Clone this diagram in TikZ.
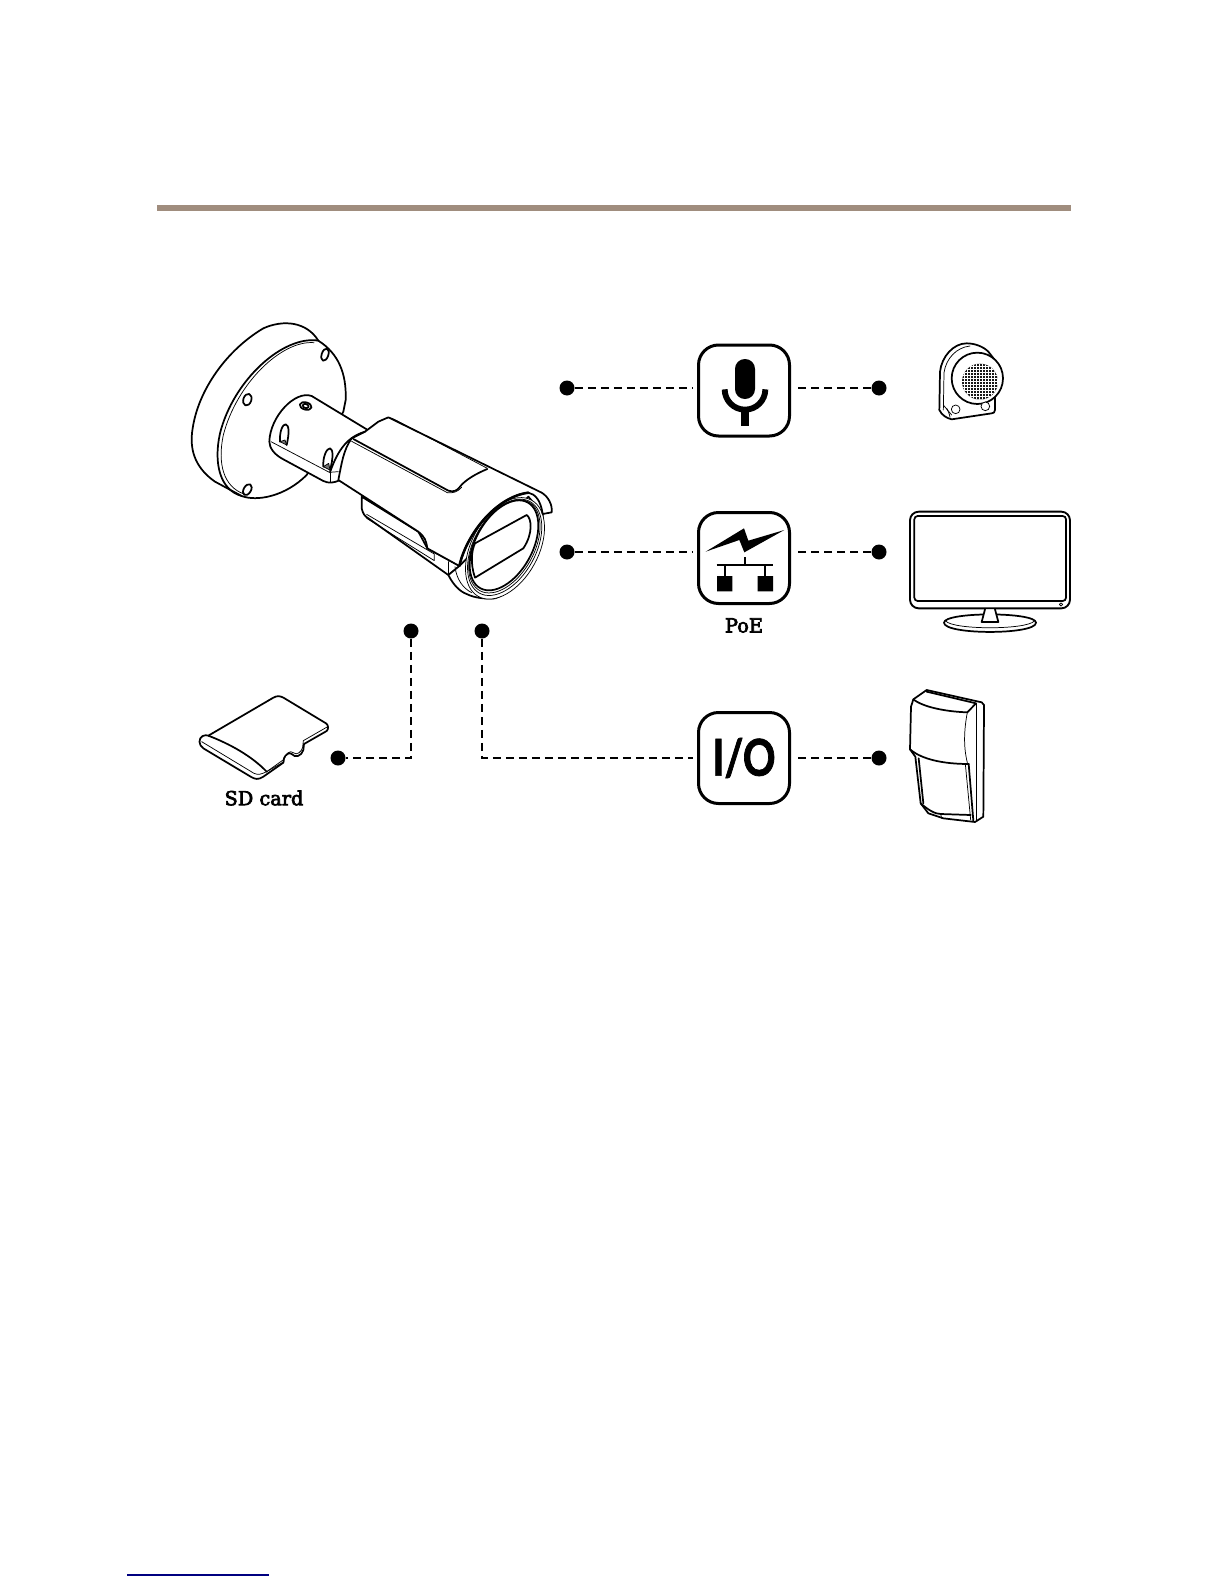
\documentclass[tikz,border=0pt]{standalone}
\usepackage{fontspec}
\usepackage{graphicx}
\newfontfamily\labfont{DejaVu Serif}[FakeBold=3.5]
\newfontfamily\iofont{Lato}[FakeStretch=0.8,BoldFeatures={FakeBold=1.4}]
\definecolor{barcol}{HTML}{A08D7E}
\definecolor{linkcol}{HTML}{000080}
\tikzset{
  dotnode/.style={circle,fill=black,draw=none,minimum size=11.25pt,inner sep=0pt},
  iconbox/.style={draw=black,line width=2.25pt,fill=white,rounded corners=15pt,minimum size=68.25pt,inner sep=0pt},
  dashlink/.style={line width=1.9pt,dash pattern=on 6pt off 3.75pt},
  lab/.style={inner sep=0pt,font=\labfont\fontsize{14.5}{16}\selectfont},
  heavy/.style={line width=1.3pt,line join=round,line cap=round,draw=black},
  fine/.style={line width=.55pt,line join=round,line cap=round,draw=black},
  zA/.style={x=.25pt,y=-.25pt,shift={(127.5pt,-225pt)}},
  zB/.style={x=.25pt,y=-.25pt,shift={(510pt,-247.5pt)}},
  zC/.style={x=.25pt,y=-.25pt,shift={(135pt,-502.5pt)}},
  zD/.style={x=.25pt,y=-.25pt,shift={(510pt,-502.5pt)}},
}
\begin{document}
\begin{tikzpicture}[x=.75pt,y=-.75pt]
\useasboundingbox (0,0) rectangle (1224,1584);
\fill[white] (0,0) rectangle (1224,1584);
% top rule and footer rule
\fill[barcol] (157,205) rectangle (1071,211);
\draw[linkcol,line width=.9pt] (127,1575) -- (269,1575);

% ---------- camera ----------
\begin{scope}[zA]
 % back of the mounting plate
 \draw[heavy,fill=white] (215,588) -- (135,545) .. controls (85,510) and (55,460) .. (68,385)
   .. controls (85,270) and (170,150) .. (280,85) .. controls (340,58) and (410,65) .. (445,122)
   .. controls (505,160) and (530,220) .. (527,300) -- (520,335) -- (410,525)
   .. controls (345,590) and (260,605) .. (215,588) -- cycle;
 % front face of the plate
 \draw[heavy] (445,122) .. controls (340,105) and (190,240) .. (150,400)
   .. controls (130,490) and (150,570) .. (215,588);
 \draw[fine] (432,128) .. controls (335,120) and (200,250) .. (160,405)
   .. controls (142,490) and (160,560) .. (222,582);
 % screw holes
 \draw[heavy,fill=white] (465,164) ellipse [x radius=10,y radius=19,rotate=-18];
 \draw[heavy,fill=white] (232,299) ellipse [x radius=12,y radius=18,rotate=-18];
 \draw[heavy,fill=white] (232,569) ellipse [x radius=11,y radius=18,rotate=-30];
 % arm
 \draw[heavy,fill=white] (298,425) .. controls (300,350) and (375,270) .. (425,288)
   -- (590,388) -- (560,520) -- (510,540) .. controls (490,550) and (475,550) .. (460,543)
   -- (340,478) .. controls (315,465) and (298,445) .. (298,425) -- cycle;
 \draw[fine] (303,425) -- (478,517) -- (505,515);
 \draw[fine] (480,517) -- (480,545);
 % slots on the arm
 \draw[heavy,fill=white] (330,425) .. controls (328,395) and (338,372) .. (347,373)
   .. controls (358,375) and (358,400) .. (350,435);
 \draw[fine,fill=black!55] (330,425) -- (350,435) -- (345,420) -- cycle;
 \draw[heavy,fill=white] (460,500) .. controls (458,470) and (470,445) .. (480,445)
   .. controls (490,447) and (490,475) .. (480,510);
 \draw[fine,fill=black!55] (460,500) -- (480,510) -- (476,490) -- cycle;
 % hole on the arm
 \draw[heavy,fill=white] (407,318) ellipse [x radius=18,y radius=11,rotate=-15];
 \draw[heavy] (407,318) ellipse [x radius=9,y radius=6,rotate=-15];

 % underside bracket
 \draw[heavy,fill=white] (575,590) -- (575,625) .. controls (578,640) and (585,650) .. (595,655)
   -- (835,825) -- (870,798) -- (772,745) -- (745,695) -- cycle;
 \draw[fine] (590,643) -- (793,762) -- (793,782) -- (590,655);
 % barrel
 \draw[heavy,fill=white] (835,825) .. controls (850,855) and (870,875) .. (890,882)
   .. controls (915,895) and (950,897) .. (975,895)
   .. controls (1060,865) and (1125,740) .. (1118,640) -- (1075,590) -- (868,798) -- cycle;
 \draw[fine] (835,785) -- (835,825);
 \draw[fine] (855,800) .. controls (860,840) and (880,865) .. (905,878);
 % rings of the lens
 \draw[fine,fill=white] (1005,745) ellipse [x radius=165,y radius=100,rotate=61];
 \draw[fine,fill=white] (1004,742) ellipse [x radius=157,y radius=93,rotate=61];
 \draw[fine,fill=white] (1003,739) ellipse [x radius=152,y radius=89,rotate=61];
 \draw[heavy,fill=white] (1002,736) ellipse [x radius=147,y radius=85,rotate=61];
 % lens window
 \draw[heavy,fill=white] (915,730) -- (1070,645) .. controls (1085,655) and (1090,700) .. (1060,745)
   -- (915,833) .. controls (900,790) and (905,750) .. (915,730) -- cycle;
 % housing with the sun shield
 \draw[heavy,fill=white] (545,415) -- (585,395) -- (625,365) -- (655,352) -- (1115,578)
   .. controls (1135,590) and (1148,615) .. (1145,637) -- (1118,642)
   .. controls (1112,600) and (1095,582) .. (1075,578)
   .. controls (980,590) and (890,700) .. (868,798)
   -- (772,745) .. controls (768,720) and (765,712) .. (745,695)
   -- (505,540) .. controls (515,490) and (520,450) .. (545,415) -- cycle;
 \draw[line width=1.9pt,line cap=round] (1075,578) .. controls (980,590) and (890,700) .. (868,798);
 \draw[fine] (655,352) .. controls (670,355) and (680,362) .. (690,367) -- (952,505);
 % collar
 \draw[heavy] (480,517) .. controls (505,445) and (535,410) .. (585,395);
 % pocket in the shield
 \draw[heavy] (550,417) -- (835,572) .. controls (850,577) and (862,572) .. (870,560)
   .. controls (885,540) and (920,520) .. (952,507);
 \draw[fine] (545,424) -- (832,578) .. controls (850,580) and (862,576) .. (875,562);
\end{scope}

% ---------- named nodes ----------
\node[dotnode] (d1) at (567,388) {};
\node[dotnode] (d2) at (567,552) {};
\node[dotnode] (d3) at (482,631) {};
\node[dotnode] (d4) at (411,631) {};
\node[dotnode] (d5) at (879,388) {};
\node[dotnode] (d6) at (879,552) {};
\node[dotnode] (d7) at (879,758) {};
\node[dotnode] (d8) at (338,758) {};
\node[iconbox] (mic) at (744,390.5) {};
\node[iconbox] (poe) at (744,558) {};
\node[iconbox,font=\iofont\bfseries\fontsize{38}{40}\selectfont] (io) at (744,758) {I/O};
\node[lab] (poelabel) at (744,625.5) {PoE};
\node[lab] (sdlabel) at (264,798) {SD card};
\coordinate (c1) at (411,758);
\coordinate (c2) at (482,758);

% ---------- connectors ----------
\draw[dashlink] (d1) -- ([xshift=-3pt]d1 -| mic.west);
\draw[dashlink] (d2) -- ([xshift=-3pt]d2 -| poe.west);
\draw[dashlink] (d3) -- (c2) -- ([xshift=-3pt]c2 -| io.west);
\draw[dashlink] (d4) -- (c1) -- (d8);
\draw[dashlink] (d5) -- ([xshift=5pt]d5 -| mic.east);
\draw[dashlink] (d6) -- ([xshift=5pt]d6 -| poe.east);
\draw[dashlink] (d7) -- ([xshift=5pt]d7 -| io.east);

% ---------- mic and PoE glyphs ----------
\begin{scope}[zB]
 \fill[black,rounded corners=7.4pt] (165,87) rectangle (225,207);
 \draw[line width=4.4pt] (134,178) arc [start angle=180,end angle=0,radius=61];
 \fill (184,232) rectangle (206,288);
 \fill (77,665) -- (192,595) -- (205,632) -- (313,600) -- (193,667) -- (178,630) -- cycle;
 \draw[line width=1.4pt] (195,682) -- (195,706) (110,706) -- (280,706) (134,706) -- (134,740) (256,706) -- (256,740);
 \fill (111,738) rectangle (157,784) (233,738) rectangle (279,784);

 % ---------- monitor ----------
 \draw[line width=1.4pt,rounded corners=6.5pt,fill=white] (690,545) rectangle (1170,835);
 \draw[line width=1.3pt,rounded corners=2.5pt] (703,558) rectangle (1158,813);
 \draw[fine] (1143,819) -- (1148,823) -- (1143,828) -- (1138,823) -- cycle;
 \draw[heavy,fill=white] (792,878) .. controls (792,915) and (1068,915) .. (1068,878)
    .. controls (1068,845) and (792,845) .. (792,878) -- cycle;
 \draw[fine] (797,873) .. controls (820,900) and (1040,900) .. (1063,873);
 \draw[heavy,fill=white] (915,838) -- (905,876) -- (955,876) -- (945,838);

 % ---------- microphone device ----------
 \draw[heavy,fill=white] (778,240) -- (780,125) .. controls (785,80) and (820,40) .. (860,40)
   .. controls (885,40) and (910,50) .. (925,65) -- (960,110) -- (945,195) -- (945,240)
   .. controls (945,247) and (940,250) .. (935,250) -- (815,268) .. controls (800,265) and (785,255) .. (778,240) -- cycle;
 \draw[fine] (790,240) -- (792,128) .. controls (798,85) and (830,52) .. (870,48);
 \draw[fine] (790,225) -- (815,255);
 \draw[fine] (810,262) .. controls (808,250) and (805,245) .. (800,235);
 \draw[heavy,fill=white] (892,145) circle [radius=77];
 \draw[fine,fill=white] (827,238) circle [radius=13];
 \draw[fine,fill=white] (916,229) circle [radius=13];
 \begin{scope}
  \clip (900,155) circle [radius=54];
  \fill[black!90] (845,100) rectangle (955,210);
  \foreach \g in {0,1,...,12} {
    \draw[white,line width=.3pt] (845+\g*9,100) -- (845+\g*9,210);
    \draw[white,line width=.3pt] (845,100+\g*9) -- (955,100+\g*9);
  }
 \end{scope}
\end{scope}

% ---------- SD card ----------
\begin{scope}[zC]
 \draw[heavy,fill=white] (85,197) -- (280,83) .. controls (292,76) and (302,78) .. (312,84) -- (438,160)
   .. controls (446,165) and (446,178) .. (440,183) -- (372,222) -- (370,240)
   .. controls (365,258) and (345,265) .. (335,252) .. controls (328,245) and (315,255) .. (312,265)
   -- (310,278) -- (250,320) .. controls (235,330) and (225,328) .. (212,320) -- (70,235)
   .. controls (55,225) and (55,205) .. (68,198) .. controls (75,195) and (80,195) .. (85,197) -- cycle;
 \draw[heavy] (85,197) .. controls (150,222) and (215,258) .. (260,305);
 \draw[fine] (65,215) -- (222,310) .. controls (235,316) and (245,312) .. (260,305) -- (312,275);
 \draw[fine] (260,305) -- (312,268) .. controls (318,250) and (330,240) .. (340,248)
   .. controls (350,258) and (365,245) .. (368,232) -- (370,212) -- (443,170);
\end{scope}

% ---------- motion detector ----------
\begin{scope}[zD]
 \draw[heavy,fill=white] (700,88) -- (740,60) -- (905,97) -- (912,105) -- (910,440) -- (885,456)
   -- (790,445) -- (745,430) -- (722,400) -- (706,260) -- (690,238) -- (693,110) -- cycle;
 \draw[heavy] (700,88) .. controls (730,112) and (800,125) .. (862,127) -- (888,100) -- (740,65);
 \draw[fine] (888,100) -- (888,453);
 \draw[fine] (862,127) .. controls (852,180) and (850,230) .. (862,278);
 \draw[heavy] (690,238) .. controls (725,268) and (790,282) .. (866,282);
 \draw[heavy] (866,282) -- (880,452);
 \draw[fine] (856,282) -- (872,450);
 \draw[heavy] (716,265) -- (730,400);
 \draw[heavy] (722,400) .. controls (745,420) and (765,432) .. (782,432) -- (872,435);
 \draw[fine] (782,432) -- (785,445);
\end{scope}
\end{tikzpicture}
\end{document}
